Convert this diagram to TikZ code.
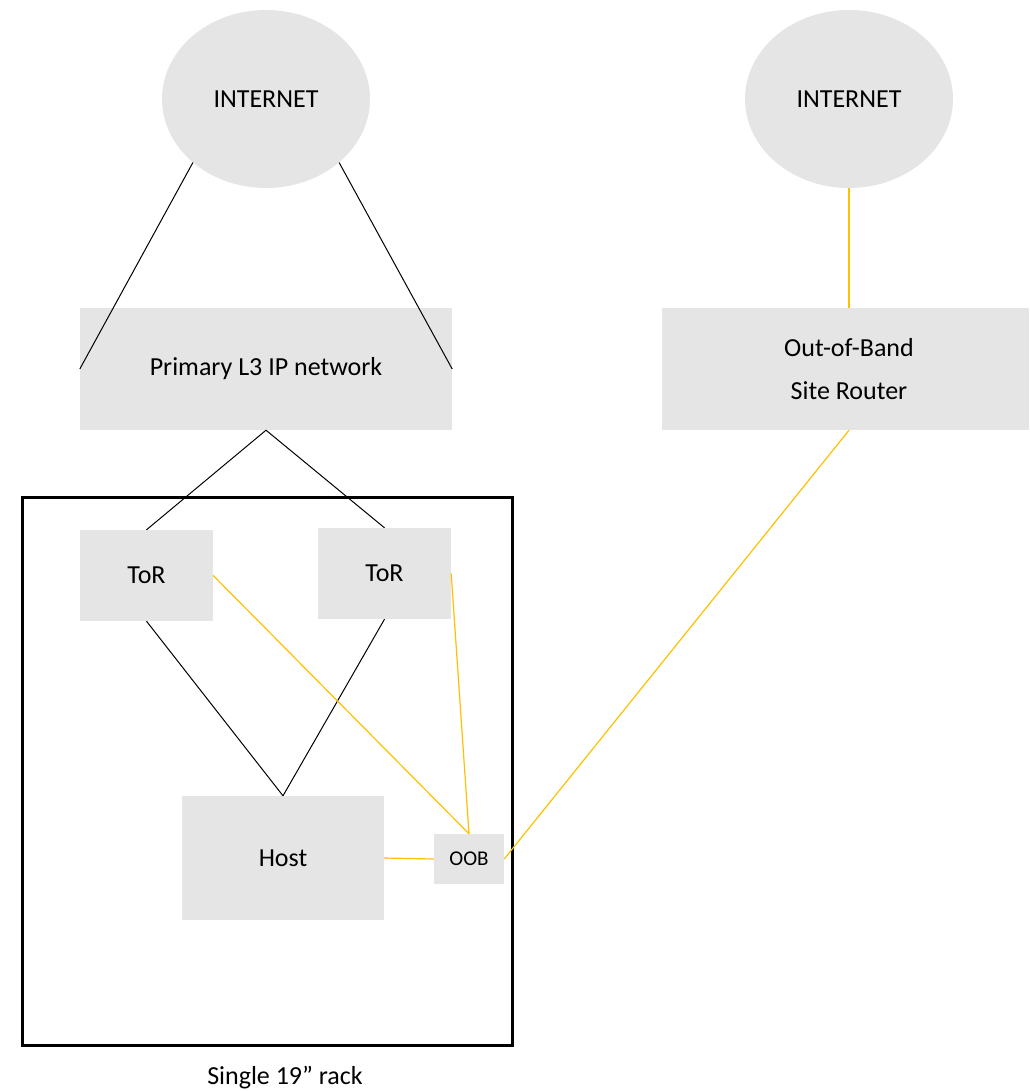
\documentclass[tikz,border=0pt]{standalone}
\usepackage{fontspec}
\setmainfont{Carlito}
\usetikzlibrary{shapes.geometric}
\definecolor{boxfill}{HTML}{E5E5E5}
\definecolor{oobline}{HTML}{FFC000}
\tikzset{
  netbox/.style={fill=boxfill, draw=none, font=\fontsize{26}{43}\selectfont,
                 inner sep=0pt, align=center},
  inetcloud/.style={netbox, ellipse, minimum width=208pt, minimum height=178pt},
  rackbox/.style={draw=black, line width=3pt, fill=none},
  link/.style={black, line width=1pt},
  ooblink/.style={oobline, line width=1.2pt},
}
\begin{document}
\begin{tikzpicture}[x=1pt, y=-1pt]
    \useasboundingbox (0,0) rectangle (1029,1091);
    % rack
    \node[rackbox, minimum width=490pt, minimum height=548pt] (rack) at (267.5,771.5) {};
    \node[font=\fontsize{26}{30}\selectfont] (racklabel) at (285,1078) {Single 19” rack};
    % primary side
    \node[inetcloud] (inet1) at (266,99) {INTERNET};
    \node[netbox, minimum width=372pt, minimum height=122pt] (primary) at (266,369) {Primary L3 IP network};
    \node[netbox, minimum width=133pt, minimum height=91pt] (tor1) at (146.5,575.5) {ToR};
    \node[netbox, minimum width=133pt, minimum height=91pt] (tor2) at (384.5,573.5) {ToR};
    \node[netbox, minimum width=202pt, minimum height=124pt] (host) at (283,858) {Host};
    \node[netbox, minimum width=70pt, minimum height=50pt, font=\fontsize{21}{25}\selectfont] (oob) at (469,859) {OOB};
    % out-of-band side
    \node[inetcloud] (inet2) at (849,99) {INTERNET};
    \node[netbox, minimum width=367pt, minimum height=122pt] (router) at (845.5,369) {\hspace*{7pt}Out-of-Band\\\hspace*{7pt}Site Router};
    \draw[link] (inet1.221) -- (primary.west);
    \draw[link] (inet1.319) -- (primary.east);
    \draw[link] (primary.south) -- (tor1.north);
    \draw[link] (primary.south) -- (tor2.north);
    \draw[link] (tor1.south) -- (host.north);
    \draw[link] (tor2.south) -- (host.north);
    \draw[ooblink] (inet2.south) -- (router.north -| inet2.south);
    \draw[ooblink] (router.south -| inet2.south) -- (oob.east);
    \draw[ooblink] (tor1.east) -- (oob.north);
    \draw[ooblink] (tor2.east) -- (oob.north);
    \draw[ooblink] (host.east) -- (oob.west);
  \end{tikzpicture}
\end{document}
